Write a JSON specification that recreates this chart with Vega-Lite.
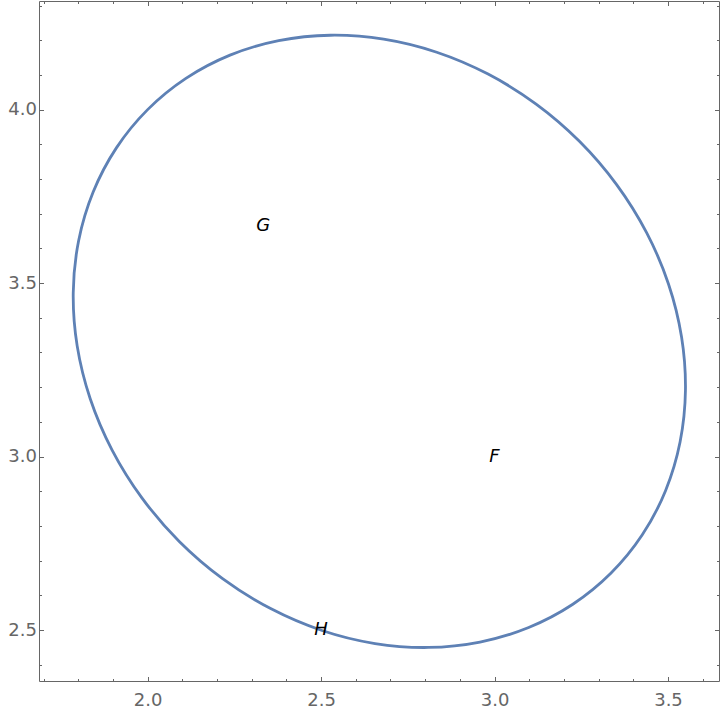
{
  "$schema": "https://vega.github.io/schema/vega-lite/v6.json",
  "width": 680,
  "height": 680,
  "autosize": {"type": "none"},
  "padding": {"left": 39, "top": 1, "right": 1, "bottom": 31},
  "background": "white",
  "config": {
    "view": {"stroke": null},
    "axis": {
      "domainColor": "#666666",
      "tickColor": "#666666",
      "labelColor": "#666666",
      "labelFont": "DejaVu Sans",
      "labelFontSize": 18,
      "grid": false,
      "title": null,
      "labelOverlap": false,
      "labelFlush": false
    }
  },
  "layer": [
    {
      "data": {
        "values": [
          {"i": 0, "x": 3.3359, "y": 2.6641},
          {"i": 1, "x": 3.4259, "y": 2.7743},
          {"i": 2, "x": 3.4929, "y": 2.9016},
          {"i": 3, "x": 3.5348, "y": 3.0419},
          {"i": 4, "x": 3.5503, "y": 3.191},
          {"i": 5, "x": 3.5391, "y": 3.3444},
          {"i": 6, "x": 3.5014, "y": 3.4974},
          {"i": 7, "x": 3.4383, "y": 3.6454},
          {"i": 8, "x": 3.3519, "y": 3.7839},
          {"i": 9, "x": 3.2447, "y": 3.9087},
          {"i": 10, "x": 3.1199, "y": 4.0159},
          {"i": 11, "x": 2.9814, "y": 4.1023},
          {"i": 12, "x": 2.8334, "y": 4.1654},
          {"i": 13, "x": 2.6804, "y": 4.2031},
          {"i": 14, "x": 2.527, "y": 4.2143},
          {"i": 15, "x": 2.3779, "y": 4.1988},
          {"i": 16, "x": 2.2376, "y": 4.1569},
          {"i": 17, "x": 2.1104, "y": 4.0899},
          {"i": 18, "x": 2.0001, "y": 3.9999},
          {"i": 19, "x": 1.9101, "y": 3.8897},
          {"i": 20, "x": 1.8431, "y": 3.7624},
          {"i": 21, "x": 1.8012, "y": 3.6221},
          {"i": 22, "x": 1.7857, "y": 3.473},
          {"i": 23, "x": 1.7969, "y": 3.3196},
          {"i": 24, "x": 1.8346, "y": 3.1666},
          {"i": 25, "x": 1.8977, "y": 3.0186},
          {"i": 26, "x": 1.9841, "y": 2.8801},
          {"i": 27, "x": 2.0913, "y": 2.7553},
          {"i": 28, "x": 2.2161, "y": 2.6481},
          {"i": 29, "x": 2.3546, "y": 2.5617},
          {"i": 30, "x": 2.5026, "y": 2.4986},
          {"i": 31, "x": 2.6556, "y": 2.4609},
          {"i": 32, "x": 2.809, "y": 2.4497},
          {"i": 33, "x": 2.9581, "y": 2.4652},
          {"i": 34, "x": 3.0984, "y": 2.5071},
          {"i": 35, "x": 3.2257, "y": 2.5741}
        ]
      },
      "mark": {"type": "line", "interpolate": "cardinal-closed", "color": "#5E81B5", "strokeWidth": 2.8},
      "encoding": {
        "x": {
          "field": "x",
          "type": "quantitative",
          "scale": {"domain": [1.687, 3.647], "nice": false, "zero": false},
          "axis": {
            "orient": "bottom",
            "values": [1.7, 1.8, 1.9, 2.0, 2.1, 2.2, 2.3, 2.4, 2.5, 2.6, 2.7, 2.8, 2.9, 3.0, 3.1, 3.2, 3.3, 3.4, 3.5, 3.6],
            "labelExpr": "abs(datum.value*2 - round(datum.value*2)) < 0.001 ? format(datum.value, '.1f') : ''",
            "tickSize": {"condition": {"test": "abs(datum.value*2 - round(datum.value*2)) < 0.001", "value": -4.5}, "value": -2.5},
            "labelPadding": 15
          }
        },
        "y": {
          "field": "y",
          "type": "quantitative",
          "scale": {"domain": [2.353, 4.313], "nice": false, "zero": false},
          "axis": {
            "orient": "left",
            "values": [2.4, 2.5, 2.6, 2.7, 2.8, 2.9, 3.0, 3.1, 3.2, 3.3, 3.4, 3.5, 3.6, 3.7, 3.8, 3.9, 4.0, 4.1, 4.2, 4.3],
            "labelExpr": "abs(datum.value*2 - round(datum.value*2)) < 0.001 ? format(datum.value, '.1f') : ''",
            "tickSize": {"condition": {"test": "abs(datum.value*2 - round(datum.value*2)) < 0.001", "value": -4.5}, "value": -2.5},
            "labelPadding": 7
          }
        },
        "order": {"field": "i", "type": "quantitative"}
      }
    },
    {
      "data": {
        "values": [
          {"label": "G", "x": 2.333, "y": 3.665},
          {"label": "F", "x": 3.0, "y": 3.0},
          {"label": "H", "x": 2.5, "y": 2.5}
        ]
      },
      "mark": {"type": "text", "font": "DejaVu Sans", "fontStyle": "italic", "fontSize": 18, "color": "black", "align": "center", "baseline": "middle"},
      "encoding": {
        "x": {
          "field": "x",
          "type": "quantitative",
          "scale": {"domain": [1.687, 3.647], "nice": false, "zero": false},
          "axis": {
            "orient": "top",
            "labels": false,
            "values": [1.7, 1.8, 1.9, 2.0, 2.1, 2.2, 2.3, 2.4, 2.5, 2.6, 2.7, 2.8, 2.9, 3.0, 3.1, 3.2, 3.3, 3.4, 3.5, 3.6],
            "tickSize": {"condition": {"test": "abs(datum.value*2 - round(datum.value*2)) < 0.001", "value": -4.5}, "value": -2.5}
          }
        },
        "y": {
          "field": "y",
          "type": "quantitative",
          "scale": {"domain": [2.353, 4.313], "nice": false, "zero": false},
          "axis": {
            "orient": "right",
            "labels": false,
            "values": [2.4, 2.5, 2.6, 2.7, 2.8, 2.9, 3.0, 3.1, 3.2, 3.3, 3.4, 3.5, 3.6, 3.7, 3.8, 3.9, 4.0, 4.1, 4.2, 4.3],
            "tickSize": {"condition": {"test": "abs(datum.value*2 - round(datum.value*2)) < 0.001", "value": -4.5}, "value": -2.5}
          }
        },
        "text": {"field": "label", "type": "nominal"}
      }
    }
  ],
  "resolve": {"axis": {"x": "independent", "y": "independent"}}
}
